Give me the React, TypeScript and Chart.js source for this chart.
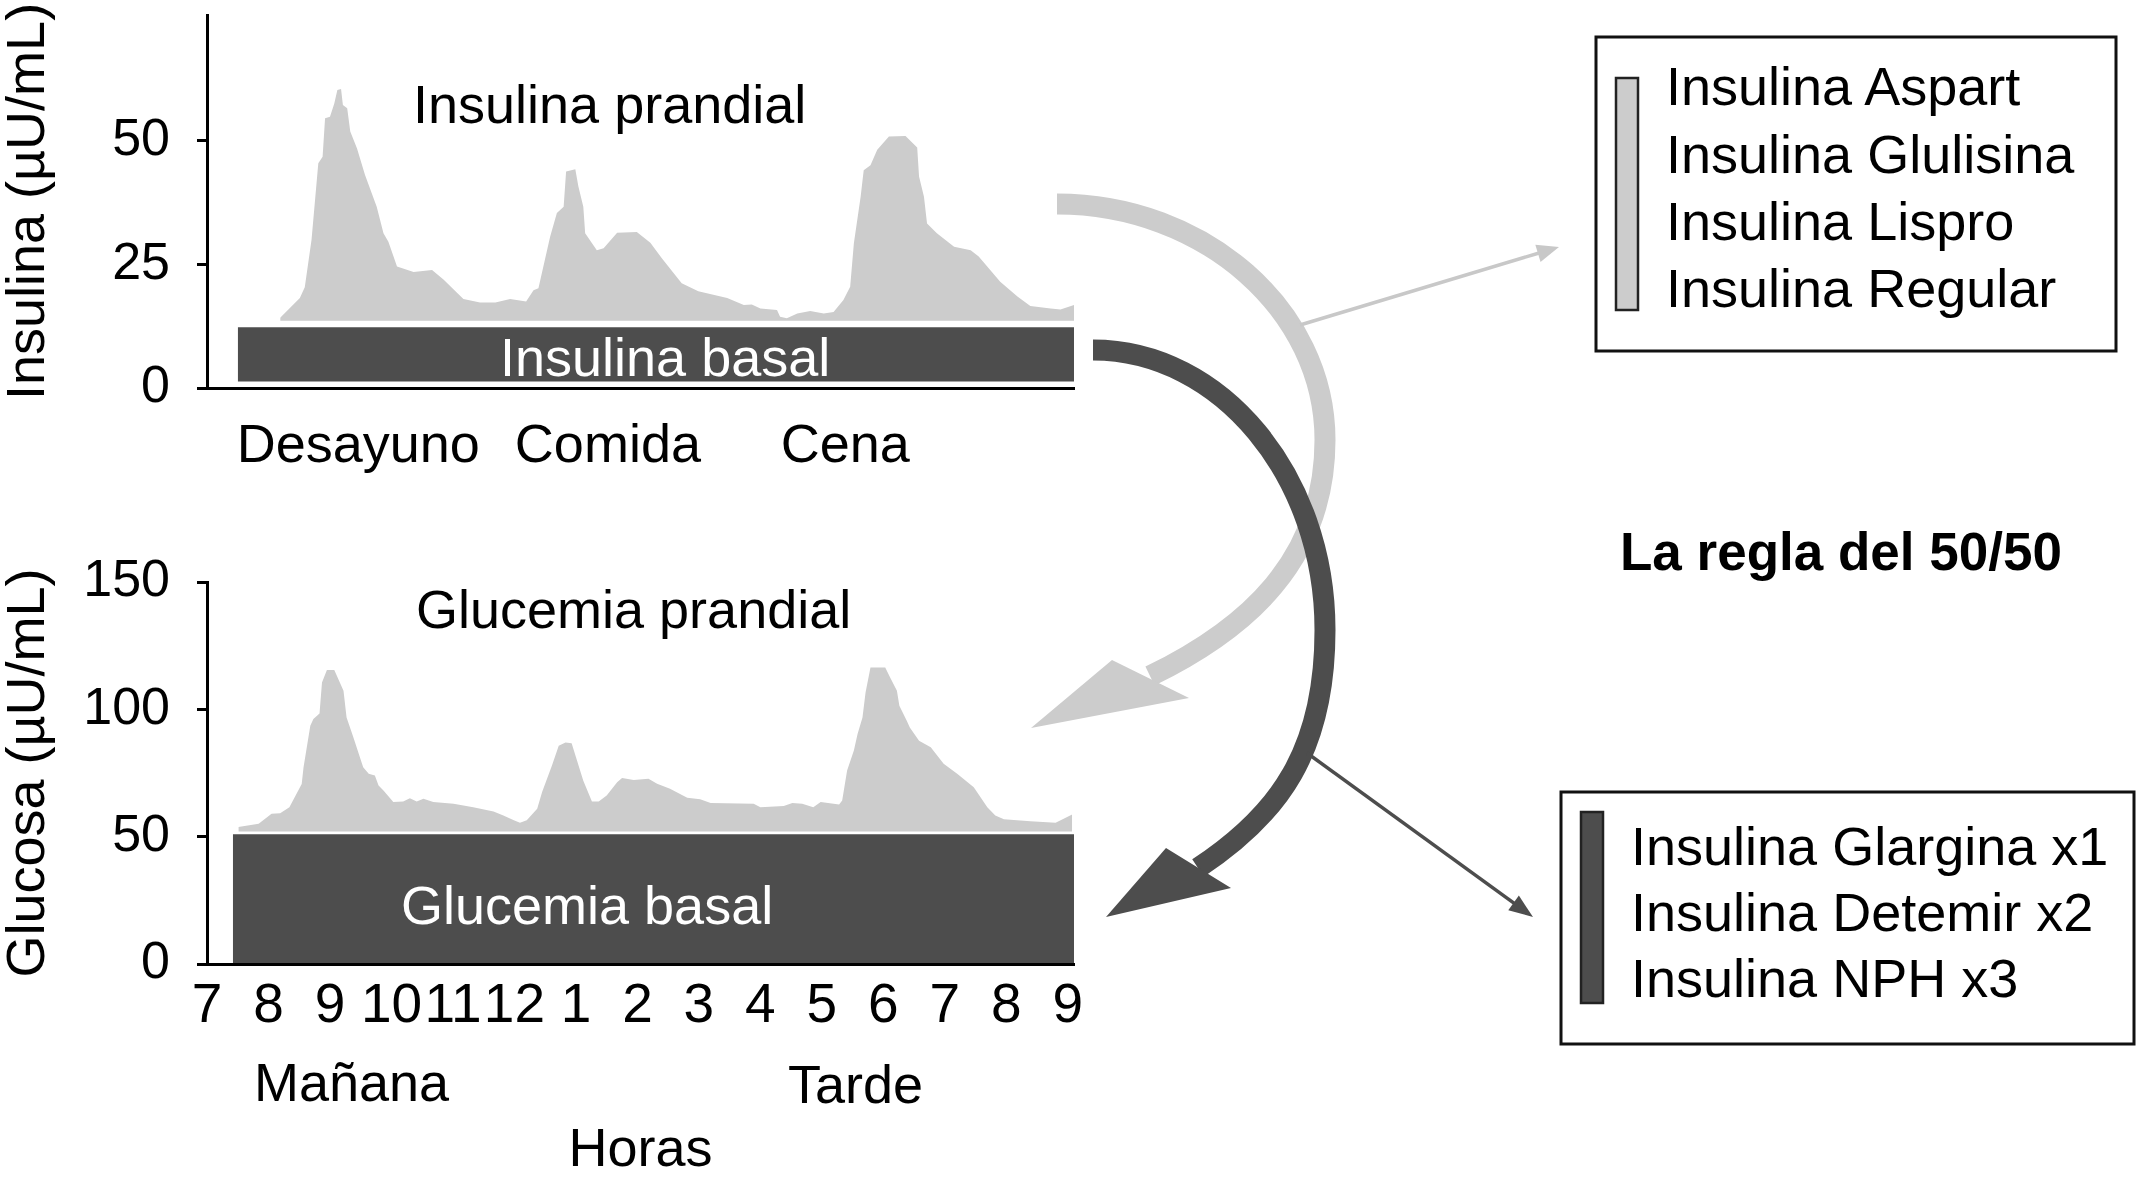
import React, { useEffect, useRef } from "react";
import { Chart, registerables } from "chart.js";

Chart.register(...registerables);

const FONT = "'Liberation Sans', Arial, Helvetica, sans-serif";
const GREY = "#cccccc";
const DARK = "#4d4d4d";
const BLACK = "#000000";

// ---------- axes ----------
const X_MIN = 7;
const X_MAX = 21.1;
const hourTicks = [7, 8, 9, 10, 11, 12, 13, 14, 15, 16, 17, 18, 19, 20, 21];
const hourLabels = ["7", "8", "9", "10", "11", "12", "1", "2", "3", "4", "5", "6", "7", "8", "9"];
const mealHours = [9.46, 13.52, 17.38];
const mealLabels = ["Desayuno", "Comida", "Cena"];
const insulinTicks = [0, 25, 50];
const glucoseTicks = [0, 50, 100, 150];

// ---------- insulin (top) ----------
const insulinHours = [
  8.19, 8.51, 8.59, 8.7, 8.81, 8.88, 8.92, 9.0, 9.07, 9.12, 9.18, 9.21, 9.28, 9.33, 9.44, 9.57, 9.76, 9.87,
  9.95, 10.09, 10.36, 10.66, 10.85, 11.17, 11.44, 11.69, 11.93, 12.19, 12.31, 12.39, 12.58, 12.69, 12.8,
  12.84, 12.99, 13.04, 13.12, 13.15, 13.34, 13.45, 13.67, 13.99, 14.21, 14.4, 14.72, 14.99, 15.46, 15.73,
  15.86, 16.0, 16.27, 16.32, 16.43, 16.6, 16.81, 17.03, 17.19, 17.35, 17.46, 17.52, 17.63, 17.68, 17.79,
  17.9, 18.09, 18.36, 18.55, 18.58, 18.66, 18.71, 18.87, 19.15, 19.42, 19.55, 19.9, 20.18, 20.39, 20.72,
  20.88, 21.1,
];
const insulinValues = [
  14.2, 18.2, 20.4, 30.0, 45.5, 46.8, 54.6, 54.9, 57.6, 60.3, 60.5, 57.3, 56.6, 51.9, 48.5, 43.1, 36.7, 31.3,
  29.6, 24.6, 23.5, 23.9, 21.9, 18.0, 17.3, 17.3, 18.0, 17.5, 19.8, 20.2, 30.6, 35.4, 36.7,
  43.8, 44.3, 40.8, 36.7, 31.3, 27.9, 28.3, 31.4, 31.6, 29.4, 26.2, 21.2, 19.6, 18.2, 16.8,
  16.9, 16.1, 15.8, 14.4, 14.1, 15.1, 15.6, 15.1, 15.4, 17.8, 20.5, 29.3, 38.7, 44.1, 45.1,
  48.2, 50.9, 51.0, 48.7, 42.8, 38.7, 33.3, 31.3, 28.6, 27.9, 26.6, 21.5, 18.5, 16.6, 16.1,
  15.9, 16.8,
];
const insulinPrandialBase = 13.6;
const insulinBasalHours = [7.5, 21.1];
const insulinBasalLow = 1.3;
const insulinBasalHigh = 12.3;

// ---------- glucose (bottom) ----------
const glucoseHours = [
  7.51, 7.84, 8.05, 8.19, 8.34, 8.54, 8.57, 8.68, 8.73, 8.83, 8.87, 8.95, 9.07, 9.22, 9.27, 9.38, 9.54, 9.63,
  9.73, 9.79, 9.87, 10.03, 10.19, 10.3, 10.41, 10.52, 10.68, 11.01, 11.33, 11.66, 11.82, 11.99, 12.09, 12.2,
  12.37, 12.45, 12.61, 12.72, 12.83, 12.93, 13.12, 13.26, 13.37, 13.5, 13.67, 13.75, 13.94, 14.18, 14.32,
  14.53, 14.81, 15.02, 15.19, 15.89, 16.0, 16.38, 16.52, 16.68, 16.86, 16.98, 17.28, 17.33, 17.41, 17.52,
  17.58, 17.66, 17.71, 17.79, 18.03, 18.11, 18.22, 18.26, 18.38, 18.43, 18.58, 18.77, 18.98, 19.2, 19.47,
  19.58, 19.69, 19.82, 19.96, 20.39, 20.8, 20.94, 21.07,
];
const glucoseValues = [
  53.8, 55.1, 59.0, 59.2, 61.6, 70.7, 77.3, 93.6, 96.2, 98.4, 110.5, 115.4, 115.4, 107.3, 96.8, 89.0, 77.3, 74.7,
  74.0, 70.1, 68.1, 63.6, 63.8, 65.1, 63.8, 64.9, 63.6, 62.9, 61.6, 59.9, 58.3, 56.4, 55.5, 56.4,
  61.0, 67.5, 77.9, 85.7, 87.0, 86.7, 72.0, 63.8, 63.8, 66.2, 71.4, 73.0, 72.3, 72.7, 70.8,
  68.8, 65.3, 64.7, 63.2, 62.9, 61.6, 62.0, 63.2, 62.9, 61.6, 63.6, 62.6, 64.2, 76.0, 83.8,
  90.3, 96.8, 106.6, 116.4, 116.4, 112.5, 107.3, 101.4, 95.5, 92.9, 87.7, 85.1, 78.6, 74.7, 69.4,
  65.5, 61.6, 58.3, 56.8, 56.1, 55.5, 57.1, 58.7,
];
const glucosePrandialBase = 52;
const glucoseBasalHours = [7.42, 21.1];
const glucoseBasalLow = 0;
const glucoseBasalHigh = 50.9;

// ---------- legends ----------
const prandialInsulins = ["Insulina Aspart", "Insulina Glulisina", "Insulina Lispro", "Insulina Regular"];
const basalInsulins = ["Insulina Glargina x1", "Insulina Detemir x2", "Insulina NPH x3"];

function yAxis(ticks: number[], max: number, title: string) {
  return {
    min: 0,
    max,
    afterBuildTicks: (s: any) => {
      s.ticks = ticks.map((v) => ({ value: v }));
    },
    afterFit: (s: any) => {
      s.width = 207;
      s.paddingTop = 0;
      s.paddingBottom = 0;
    },
    ticks: {
      padding: 27,
      color: BLACK,
      font: { family: FONT, size: 52 },
      callback: (v: any) => String(v),
    },
    grid: { display: true, drawOnChartArea: false, drawTicks: true, tickLength: 10, color: BLACK, lineWidth: 3 },
    border: { display: true, color: BLACK, width: 3, z: 1 },
    title: {
      display: true,
      text: title,
      color: BLACK,
      font: { family: FONT, size: 54 },
      padding: { top: -3, bottom: 0 },
    },
  };
}

function band(hours: number[], high: number, low: number, color: string) {
  return {
    data: hours.map((h) => ({ x: h, y: high })),
    fill: { value: low },
    backgroundColor: color,
    borderWidth: 0,
    pointRadius: 0,
    tension: 0,
  };
}

function area(hours: number[], values: number[], base: number, color: string) {
  return {
    data: hours.map((h, i) => ({ x: h, y: values[i] })),
    fill: { value: base },
    backgroundColor: color,
    borderWidth: 0,
    pointRadius: 0,
    tension: 0,
  };
}

function topConfig(): any {
  return {
    type: "line",
    data: {
      datasets: [
        band(insulinBasalHours, insulinBasalHigh, insulinBasalLow, DARK),
        area(insulinHours, insulinValues, insulinPrandialBase, GREY),
      ],
    },
    options: {
      responsive: false,
      animation: false,
      events: [],
      layout: { padding: { left: 0, top: 15, right: 16, bottom: 0 } },
      plugins: { legend: { display: false }, tooltip: { enabled: false } },
      scales: {
        x: {
          type: "linear",
          min: X_MIN,
          max: X_MAX,
          afterBuildTicks: (s: any) => {
            s.ticks = mealHours.map((v) => ({ value: v }));
          },
          afterFit: (s: any) => {
            s.height = 92;
            s.paddingLeft = 0;
            s.paddingRight = 0;
          },
          ticks: {
            autoSkip: false,
            maxRotation: 0,
            minRotation: 0,
            padding: 27,
            color: BLACK,
            font: { family: FONT, size: 54 },
            callback: (_v: any, i: number) => mealLabels[i],
          },
          grid: { display: false, drawTicks: false },
          border: { display: true, color: BLACK, width: 3, z: 1 },
        },
        y: yAxis(insulinTicks, 75.5, "Insulina (µU/mL)"),
      },
    },
  };
}

function bottomConfig(): any {
  return {
    type: "line",
    data: {
      datasets: [
        band(glucoseBasalHours, glucoseBasalHigh, glucoseBasalLow, DARK),
        area(glucoseHours, glucoseValues, glucosePrandialBase, GREY),
      ],
    },
    options: {
      responsive: false,
      animation: false,
      events: [],
      layout: { padding: { left: 0, top: 42, right: 16, bottom: 0 } },
      plugins: { legend: { display: false }, tooltip: { enabled: false } },
      scales: {
        x: {
          type: "linear",
          min: X_MIN,
          max: X_MAX,
          afterBuildTicks: (s: any) => {
            s.ticks = hourTicks.map((v) => ({ value: v }));
          },
          afterFit: (s: any) => {
            s.height = 223;
            s.paddingLeft = 0;
            s.paddingRight = 0;
          },
          ticks: {
            autoSkip: false,
            maxRotation: 0,
            minRotation: 0,
            padding: 15,
            color: BLACK,
            font: { family: FONT, size: 55 },
            callback: (_v: any, i: number) => hourLabels[i],
          },
          grid: { display: true, drawOnChartArea: false, drawTicks: true, tickLength: -5, color: BLACK, lineWidth: 2 },
          border: { display: true, color: BLACK, width: 3, z: 1 },
          title: {
            display: true,
            text: "Horas",
            color: BLACK,
            font: { family: FONT, size: 54 },
            padding: { top: 0, bottom: 3 },
          },
        },
        y: yAxis(glucoseTicks, 150, "Glucosa (µU/mL)"),
      },
    },
  };
}

function ThinArrow(props: { sx: number; sy: number; tx: number; ty: number; len: number; half: number; color: string; width: number }) {
  const { sx, sy, tx, ty, len, half, color, width } = props;
  const dx = tx - sx;
  const dy = ty - sy;
  const L = Math.hypot(dx, dy);
  const ux = dx / L;
  const uy = dy / L;
  const bx = tx - ux * len;
  const by = ty - uy * len;
  const nx = -uy;
  const ny = ux;
  return (
    <g>
      <line x1={sx} y1={sy} x2={bx + ux * 3} y2={by + uy * 3} stroke={color} strokeWidth={width} />
      <polygon points={`${tx},${ty} ${bx + nx * half},${by + ny * half} ${bx - nx * half},${by - ny * half}`} fill={color} />
    </g>
  );
}

export default function App() {
  const c1 = useRef<HTMLCanvasElement>(null);
  const c2 = useRef<HTMLCanvasElement>(null);

  useEffect(() => {
    Chart.defaults.font.family = FONT;
    const ch1 = new Chart(c1.current as HTMLCanvasElement, topConfig());
    const ch2 = new Chart(c2.current as HTMLCanvasElement, bottomConfig());
    return () => {
      ch1.destroy();
      ch2.destroy();
    };
  }, []);

  const txt = { fontFamily: FONT, fontSize: 54, fill: BLACK } as any;

  return (
    <div style={{ position: "absolute", left: 0, top: 0, width: 2138, height: 1187, background: "#fff", overflow: "hidden" }}>
      <canvas ref={c1} width={1090} height={480} style={{ position: "absolute", left: 0, top: 0, width: 1090, height: 480 }} />
      <canvas ref={c2} width={1090} height={647} style={{ position: "absolute", left: 0, top: 540, width: 1090, height: 647 }} />
      <svg width={2138} height={1187} style={{ position: "absolute", left: 0, top: 0, pointerEvents: "none" }}>
        {/* chart annotations */}
        <text x={413} y={123} {...txt}>Insulina prandial</text>
        <text x={500} y={376} {...txt} fill="#ffffff">Insulina basal</text>
        <text x={416} y={628} {...txt}>Glucemia prandial</text>
        <text x={401} y={924} {...txt} fill="#ffffff">Glucemia basal</text>
        <text x={254} y={1101} {...txt}>Mañana</text>
        <text x={788} y={1103} {...txt}>Tarde</text>

        {/* curved arrows */}
        <path d="M1057,204 C1204,204 1325,310 1325,440 C1325,560 1247,629 1150,676" stroke={GREY} strokeWidth={21} fill="none" />
        <polygon points="1031,728 1112,660 1189,698" fill={GREY} />
        <ThinArrow sx={1300} sy={325} tx={1559} ty={247} len={22} half={9} color="#c8c8c8" width={3.5} />

        <path d="M1093,350 C1221,350 1325,476 1325,630 C1325,750 1280,814 1198,868" stroke={DARK} strokeWidth={21} fill="none" />
        <polygon points="1106,917 1166,848 1231,888" fill={DARK} />
        <ThinArrow sx={1307} sy={753} tx={1533} ty={917} len={24} half={9} color={DARK} width={3.5} />

        {/* legend boxes */}
        <rect x={1596} y={37} width={520} height={314} fill="none" stroke="#111" strokeWidth={3} />
        <rect x={1616} y={78} width={22} height={232} fill={GREY} stroke="#222" strokeWidth={2.5} />
        {prandialInsulins.map((t, i) => (
          <text key={t} x={1666} y={[105, 173, 240, 307][i]} {...txt}>{t}</text>
        ))}

        <rect x={1561} y={792} width={573} height={252} fill="none" stroke="#111" strokeWidth={3} />
        <rect x={1581} y={812} width={22} height={191} fill={DARK} stroke="#222" strokeWidth={2.5} />
        {basalInsulins.map((t, i) => (
          <text key={t} x={1631} y={[865, 931, 997][i]} {...txt}>{t}</text>
        ))}

        <text x={1620} y={570} fontFamily={FONT} fontSize={53} fontWeight="bold" fill={BLACK}>La regla del 50/50</text>
      </svg>
    </div>
  );
}
